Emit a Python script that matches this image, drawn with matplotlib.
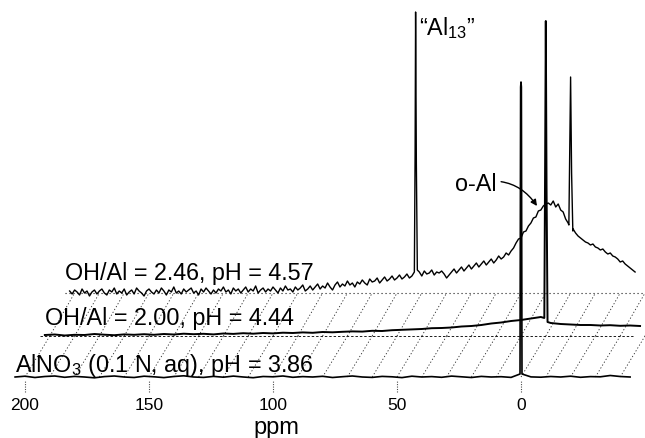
import numpy as np
import matplotlib.pyplot as plt

plt.rcParams['font.family'] = ['Liberation Sans', 'DejaVu Sans']
plt.rcParams['mathtext.fontset'] = 'custom'
plt.rcParams['mathtext.rm'] = 'Liberation Sans'
plt.rcParams['mathtext.default'] = 'regular'

# bottom trace: AlNO3 (0.1 N, aq), pH = 3.86  (baseline read every 4 ppm)
ppm_a = np.arange(204, -45, -4)
int_a = [0, 0.8, -0.5, 0.5, 1, -0.3, 0.6, 0, -0.8, 0.4,
         1, 0, -0.5, 0.8, 0.2, -0.6, 0.5, 1.2, 0, -0.4,
         0.6, -0.2, 0.9, 0, -0.7, 0.5, 0.2, 1, -0.3, 0.4,
         0, 0.7, -0.5, 0.3, 1, 0, -0.4, 0.6, 0.2, -0.6,
         0.8, 0, 0.4, -0.3, 0.9, 0.2, -0.5, 0.6, 0, 0.3,
         -0.4, 0.7, 0.1, -0.2, 0.5, 0, 0.8, -0.3, 0.4, 0.2,
         1.5, 0.5, 0]
peaks_a = [([0.4, 0.15, 0.0, -0.15, -0.4], [3, 290, 295, 290, 3])]

# middle trace: OH/Al = 2.00, pH = 4.44
ppm_b = np.arange(202, -39, -4)
int_b = [1, 1.5, 0.5, 1.2, 1, 2, 1.3, 0.8, 1.6, 1.2,
         1.8, 1.2, 2, 1.5, 2.3, 1.8, 2.2, 1.6, 2.5, 2.1,
         2.8, 2.3, 3, 2.6, 3.3, 3, 3.6, 3.2, 4, 3.7,
         4.2, 4.6, 4.4, 5.2, 5, 5.8, 6.2, 6.6, 7, 7.8,
         8, 8.5, 9.5, 10, 11, 12.5, 13.5, 15, 16, 17.5,
         19, 13, 12, 11.5, 11, 11, 10.5, 10.8, 10.2, 10.5,
         10]
peaks_b = [([0.6, 0.3, 0.0, -0.3, -0.7], [18, 160, 315, 150, 14])]

# top trace: OH/Al = 2.46, pH = 4.57  (read every 1 ppm)
ppm_c = np.arange(202, -27, -1)
int_c = [2, -1, 3, 1, -2, 4, 0, 2, -3, 1,
         3, -1, 2, 4, 0, -2, 3, 1, 5, -1,
         2, 0, 4, -2, 1, 3, -1, 5, 2, 0,
         -3, 2, 4, 1, -1, 3, 0, 5, 2, -2,
         3, 1, 6, 0, 2, -1, 4, 1, 3, 5,
         0, 2, -2, 4, 1, 5, 2, -1, 3, 0,
         4, 2, 6, 1, 3, -1, 5, 2, 4, 0,
         3, 6, 1, 4, 2, 7, 0, 3, 5, 1,
         4, 2, 6, 3, 0, 5, 2, 7, 3, 4,
         1, 6, 3, 5, 8, 2, 4, 7, 3, 6,
         9, 4, 7, 5, 10, 6, 3, 8, 11, 6,
         9, 7, 12, 8, 10, 6, 11, 9, 13, 10,
         8, 14, 11, 12, 15, 10, 13, 16, 12, 14,
         17, 13, 15, 18, 14, 16, 19, 15, 17, 20,
         18, 21, 17, 22, 19, 20, 23, 18, 21, 20,
         22, 19, 15, 18, 21, 24, 20, 23, 26, 22,
         25, 28, 24, 27, 30, 26, 29, 32, 28, 31,
         34, 30, 33, 37, 34, 36, 40, 38, 42, 45,
         50, 54, 55, 61, 62, 67, 70, 75, 76, 82,
         83, 87, 89, 90, 88, 92, 86, 89, 83, 81,
         74, 70, 68, 64, 60, 57, 55, 53, 51, 50,
         48, 49, 46, 45, 43, 44, 41, 39, 40, 37,
         36, 34, 31, 32, 29, 27, 25, 23, 21]
peaks_c = [([63.0, 62.7, 62.5, 62.2, 61.8], [21, 140, 281, 130, 23]),
           ([0.7, 0.3, 0.0, -0.4, -0.9], [68, 150, 216, 120, 62])]

labels = ['AlNO$_3$ (0.1 N, aq), pH = 3.86',
          'OH/Al = 2.00, pH = 4.44',
          'OH/Al = 2.46, pH = 4.57']


def build(grid, base, peaks):
    x = np.asarray(grid, float)
    y = np.asarray(base, float)
    keep = np.ones(len(x), bool)
    for px, py in peaks:
        keep &= (x > max(px)) | (x < min(px))
    x, y = list(x[keep]), list(y[keep])
    for px, py in peaks:
        x += px
        y += py
    order = np.argsort(x)[::-1]
    return np.array(x)[order], np.array(y)[order]


fig = plt.figure(figsize=(6.45, 4.39), dpi=100)
ax = fig.add_axes([10 / 645, 43 / 439, 635 / 645, 396 / 439])
ax.set_xlim(206.05, -50)
ax.set_ylim(-18, 378)

shift = [0, 10, 20]      # ppm shift of each layer
lift = [0, 41, 84]       # vertical offset of each layer

# pseudo-3D grid lines
for p in range(200, -41, -10):
    ax.plot([p, p - 10], [lift[0], lift[1]], color='0.15', lw=0.6,
            ls=(0, (1.5, 2.5)), zorder=1)
    ax.plot([p - 10, p - 20], [lift[1], lift[2]], color='0.15', lw=0.6,
            ls=(0, (1.5, 2.5)), zorder=1)
ax.plot([194, -45], [lift[1], lift[1]], color='0.1', lw=0.7,
        ls=(0, (2.5, 2)), zorder=1)
ax.plot([184, -50], [lift[2], lift[2]], color='0.1', lw=0.8,
        ls=(0, (1, 2.6)), zorder=1)

spectra = [build(ppm_a, int_a, peaks_a),
           build(ppm_b, int_b, peaks_b),
           build(ppm_c, int_c, peaks_c)]
widths = [1.2, 1.4, 1.0]
for i, (x, y) in enumerate(spectra):
    ax.plot(x - shift[i], y + lift[i], color='black', lw=widths[i], zorder=3)

# trace labels
fs = 16.8
ax.text(204, 6, labels[0], fontsize=fs, ha='left', va='baseline')
ax.text(191.9, 53, labels[1], fontsize=fs, ha='left', va='baseline')
ax.text(183.9, 98, labels[2], fontsize=fs, ha='left', va='baseline')
ax.text(41.1, 343, '\u201cAl$_{13}$\u201d', fontsize=fs, ha='left',
        va='baseline')
ax.annotate('o-Al', xy=(-6.45, 171), xytext=(9.7, 187), fontsize=fs,
            ha='right', va='baseline',
            arrowprops=dict(arrowstyle='-|>', color='black', lw=1.0,
                            mutation_scale=9,
                            connectionstyle='arc3,rad=-0.35',
                            shrinkA=1, shrinkB=0))

# axis
ticks = [200, 150, 100, 50, 0]
ax.vlines(ticks, -15, -3, colors='0.3', linestyles=(0, (1, 1.2)), lw=0.8)
ax.set_xticks(ticks)
ax.set_xticklabels([str(t) for t in ticks])
ax.tick_params(axis='x', length=0, pad=1.5, labelsize=12.5)
ax.set_yticks([])
for s in ax.spines.values():
    s.set_visible(False)
ax.text(0.42, -0.081, 'ppm', transform=ax.transAxes, fontsize=17,
        ha='center', va='center')

plt.savefig('out.png', dpi=100)
